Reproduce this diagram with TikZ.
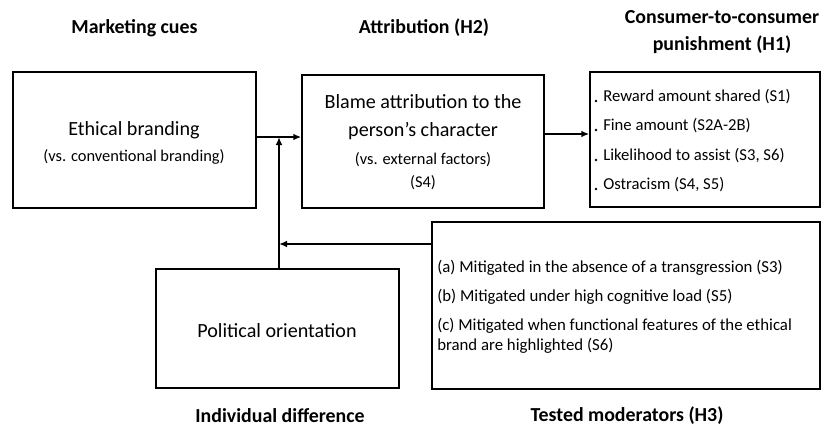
\documentclass[tikz,border=0pt]{standalone}
\usepackage{fontspec}
\setmainfont{Carlito}
\usetikzlibrary{arrows.meta}
\begin{document}
\begin{tikzpicture}[x=0.75pt,y=-0.75pt,
  box/.style={draw, line width=1.1pt, inner sep=0pt},
  arr/.style={line width=1.3pt, -{Latex[length=6pt,width=5pt]}},
  hdr/.style={font=\fontsize{14.9}{17}\selectfont\bfseries, inner sep=0pt},
  big/.style={font=\fontsize{15.1}{18}\selectfont, inner sep=0pt},
  small/.style={font=\fontsize{12.3}{15}\selectfont, inner sep=0pt},
  item/.style={font=\fontsize{12.5}{15}\selectfont, inner sep=0pt, anchor=west},
  mitem/.style={font=\fontsize{12.6}{15}\selectfont, inner sep=0pt, anchor=west},
  bul/.style={fill, circle, inner sep=0pt, minimum size=2pt}]
\useasboundingbox (0,0) rectangle (823,429);
% headers
\node[hdr] (h1) at (134.5,28) {Marketing cues};
\node[hdr] (h2) at (424,28) {Attribution (H2)};
\node[hdr] (h3a) at (722,17) {Consumer-to-consumer};
\node[hdr] (h3b) at (722,45) {punishment (H1)};
\node[hdr] (h4) at (280,416) {Individual difference};
\node[hdr] (h5) at (627,416) {Tested moderators (H3)};
% boxes
\node[box, minimum width=243*0.75pt, minimum height=136*0.75pt] (eth) at (134.5,140) {};
\node[box, minimum width=242*0.75pt, minimum height=133*0.75pt] (blame) at (423,141.5) {};
\node[box, minimum width=230*0.75pt, minimum height=135*0.75pt] (pun) at (705,139.5) {};
\node[box, minimum width=243*0.75pt, minimum height=119*0.75pt] (pol) at (277.5,328.5) {};
\node[box, minimum width=388*0.75pt, minimum height=167*0.75pt] (mod) at (626,305.5) {};
% texts
\node[big] (t1) at (134,130) {Ethical branding};
\node[small] (t2) at (134,157) {(vs. conventional branding)};
\node[big] (t3) at (423,102) {Blame attribution to the};
\node[big] (t4) at (423,131) {person’s character};
\node[small] (t5) at (423,160) {(vs. external factors)};
\node[small] (t6) at (423,183) {(S4)};
\node[big] (t7) at (277,331) {Political orientation};
\node[bul] (b1) at (596,101) {};
\node[bul] (b2) at (596,130) {};
\node[bul] (b3) at (596,160) {};
\node[bul] (b4) at (596,189) {};
\node[item] (i1) at (603,97) {Reward amount shared (S1)};
\node[item] (i2) at (603,126) {Fine amount (S2A-2B)};
\node[item] (i3) at (603,156) {Likelihood to assist (S3, S6)};
\node[item] (i4) at (603,185) {Ostracism (S4, S5)};
\node[mitem] (m1) at (437,268) {(a) Mitigated in the absence of a transgression (S3)};
\node[mitem] (m2) at (437,297) {(b) Mitigated under high cognitive load (S5)};
\node[mitem] (m3) at (437,326) {(c) Mitigated when functional features of the ethical};
\node[mitem] (m4) at (437,346) {brand are highlighted (S6)};
% connectors
\coordinate (j) at (279,137);
\coordinate (k) at (544,134);
\coordinate (m) at (432,244);
\draw[arr] (eth.east |- j) -- (blame.west |- j);
\draw[arr] (j |- pol.north) -- (j);
\draw[arr] (mod.west |- m) -- (j |- m);
\draw[arr] (blame.east |- k) -- (pun.west |- k);
\end{tikzpicture}
\end{document}
